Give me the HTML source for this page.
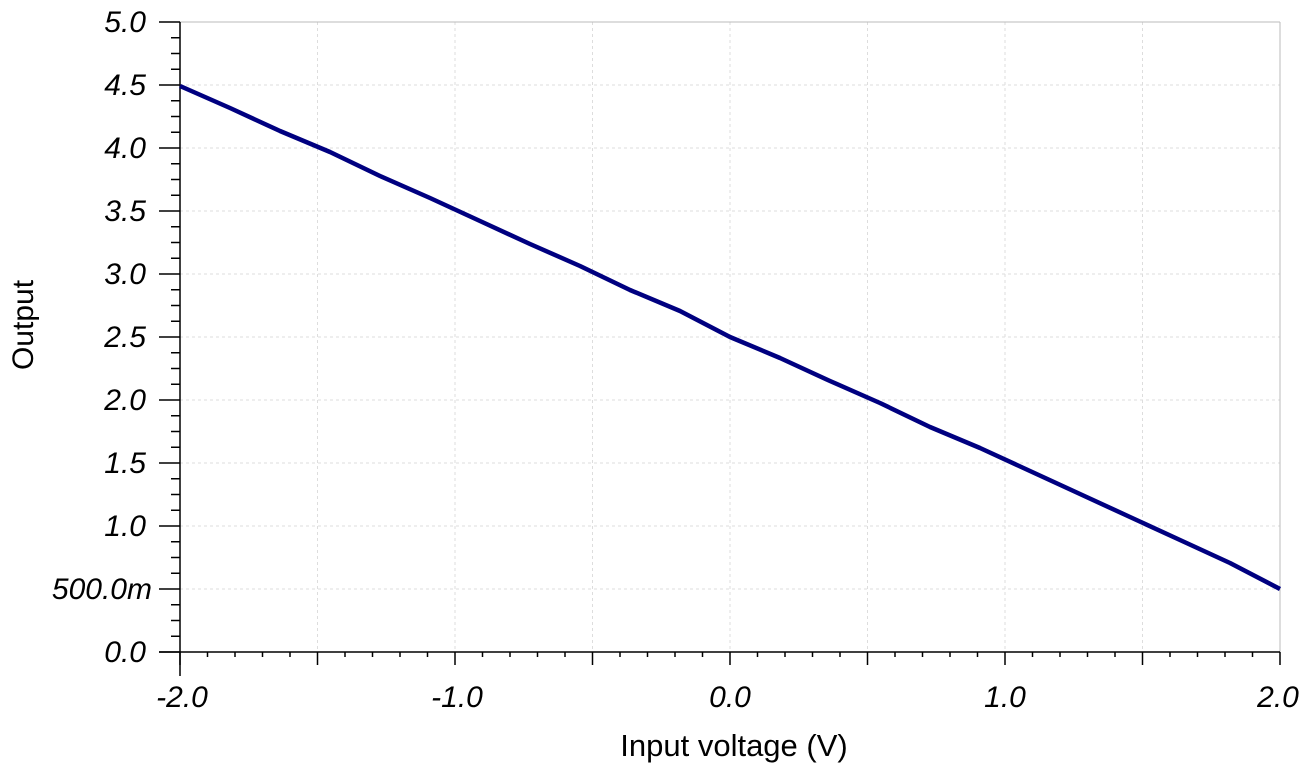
<!DOCTYPE html>
<html><head><style>body{margin:0;background:#fff}svg{display:block}text{font-family:"Liberation Sans",sans-serif;fill:#000}</style></head>
<body>
<svg width="1299" height="765" viewBox="0 0 1299 765">
<g stroke="#ddd" stroke-width="1" stroke-dasharray="3,3">
<path d="M180 85H1280M180 148H1280M180 211H1280M180 274H1280M180 337H1280M180 400H1280M180 463H1280M180 526H1280M180 589H1280M317.5 22V652M455 22V652M592.5 22V652M730 22V652M867.5 22V652M1005 22V652M1142.5 22V652"/>
</g>
<line x1="180" y1="22" x2="1280" y2="22" stroke="#bbb"/>
<line x1="1280" y1="22" x2="1280" y2="652" stroke="#bbb"/>
<path stroke="#000" stroke-width="1.5" fill="none" d="
M180 652v13M207.5 652v5M235 652v5M262.5 652v5M290 652v5M317.5 652v13M345 652v5M372.5 652v5M400 652v5M427.5 652v5M455 652v13M482.5 652v5M510 652v5M537.5 652v5M565 652v5M592.5 652v13M620 652v5M647.5 652v5M675 652v5M702.5 652v5M730 652v13M757.5 652v5M785 652v5M812.5 652v5M840 652v5M867.5 652v13M895 652v5M922.5 652v5M950 652v5M977.5 652v5M1005 652v13M1032.5 652v5M1060 652v5M1087.5 652v5M1115 652v5M1142.5 652v13M1170 652v5M1197.5 652v5M1225 652v5M1252.5 652v5M1280 652v13
M159 652h21M171 636.25h9M171 620.5h9M171 604.75h9M159 589h21M171 573.25h9M171 557.5h9M171 541.75h9M159 526h21M171 510.25h9M171 494.5h9M171 478.75h9M159 463h21M171 447.25h9M171 431.5h9M171 415.75h9M159 400h21M171 384.25h9M171 368.5h9M171 352.75h9M159 337h21M171 321.25h9M171 305.5h9M171 289.75h9M159 274h21M171 258.25h9M171 242.5h9M171 226.75h9M159 211h21M171 195.25h9M171 179.5h9M171 163.75h9M159 148h21M171 132.25h9M171 116.5h9M171 100.75h9M159 85h21M171 69.25h9M171 53.5h9M171 37.75h9M159 22h21"/>
<line x1="180" y1="22" x2="180" y2="676" stroke="#000" stroke-width="1.5"/>
<line x1="159" y1="652" x2="1280" y2="652" stroke="#000" stroke-width="1.5"/>
<polyline fill="none" stroke="#000080" stroke-width="4.5" stroke-linejoin="round" points="180,86 230,108 280,131 330,152 380,176 430,198 480,221 530,244 580,266 630,290 680,311 730,337 780,358 830,381 880,403 930,427 980,448 1030,471 1080,494 1130,517 1180,540 1230,563 1280,589"/>
<g font-size="30" font-style="italic" text-anchor="end">
<text x="146" y="32">5.0</text><text x="146" y="95">4.5</text><text x="146" y="158">4.0</text><text x="146" y="221">3.5</text><text x="146" y="284">3.0</text><text x="146" y="347">2.5</text><text x="146" y="410">2.0</text><text x="146" y="473">1.5</text><text x="146" y="536">1.0</text><text x="152" y="599">500.0m</text><text x="146" y="662">0.0</text>
</g>
<g font-size="30" font-style="italic" text-anchor="middle">
<text x="182" y="707">-2.0</text><text x="457" y="707">-1.0</text><text x="730" y="707">0.0</text><text x="1005" y="707">1.0</text><text x="1278" y="707">2.0</text>
</g>
<text x="734" y="756" font-size="31" text-anchor="middle">Input voltage (V)</text>
<text transform="translate(33,325) rotate(-90)" font-size="30" text-anchor="middle">Output</text>
</svg>
</body></html>
